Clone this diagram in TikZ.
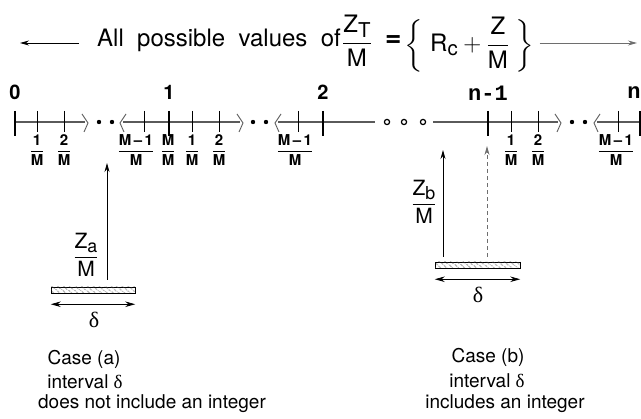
\documentclass[tikz,border=0pt]{standalone}
\usepackage{amsmath}
\usepackage{fontspec}
\setmainfont{TeX Gyre Heros}
\setmonofont{Liberation Mono}
\newfontfamily\serifgr{Liberation Serif}
\usepackage{xcolor}
\definecolor{AxisGray}{RGB}{90,90,90}
\definecolor{ArrowGray}{RGB}{110,110,110}
\definecolor{HatchLine}{RGB}{70,70,70}
\usepackage{tikz}
\usetikzlibrary{
  arrows.meta,
  positioning, calc,
  patterns.meta
}
\newcommand{\vfrac}[2]{$\genfrac{}{}{1pt}{0}{\text{#1}}{\text{#2}}$}
\newcommand{\lsub}[1]{\raisebox{-0.35ex}{\scalebox{0.85}{#1}}}
\newcommand{\setbrace}[1]{\smash{\scalebox{1}[0.88]{$#1$}}}
\tikzset{
  % Number line pieces
  axisline/.style={AxisGray, line width=1.2pt},
  tickmaj/.style={black, line width=2.4pt},
  tickmin/.style={black, line width=0.8pt},
  brkmark/.style={AxisGray, line width=0.9pt},
  % Labels
  toplab/.style={font=\fontsize{24}{26}\selectfont, inner sep=0pt},
  intlab/.style={font=\fontsize{20}{20}\selectfont\bfseries, inner sep=0pt},
  ttlab/.style={font=\fontsize{22}{22}\selectfont\ttfamily\bfseries, inner sep=0pt},
  fraclab/.style={font=\fontsize{15}{15}\selectfont\bfseries, inner sep=0pt},
  zlab/.style={font=\fontsize{21}{21}\selectfont, inner sep=0pt},
  dlab/.style={font=\fontsize{22}{22}\selectfont\serifgr, inner sep=0pt},
  caselab/.style={font=\fontsize{19}{19}\selectfont, inner sep=0pt},
  % Hatched interval
  hatchbar/.style={
    rectangle, draw=black, line width=0.5pt,
    fill=white, minimum height=6pt, inner sep=0pt,
    postaction={pattern={Lines[angle=-40, distance=4pt, line width=0.6pt]}, pattern color=HatchLine}
  },
  % Arrows
  arr/.style={-{Stealth[length=9pt,width=5pt]}, line width=0.8pt},
  darr/.style={-{Stealth[length=9pt,width=5pt]}, line width=0.8pt, ArrowGray, dash pattern=on 4pt off 3pt},
  dblarr/.style={{Stealth[length=10pt,width=5.5pt]}-{Stealth[length=10pt,width=5.5pt]}, line width=0.8pt},
}
\begin{document}
\begin{tikzpicture}[x=1pt, y=-1pt]
  \useasboundingbox (0,0) rectangle (641,419);

  %% Heading
  \node[toplab, anchor=base west] (allval) at (97,47) {All~~possible~~values~~of};
  \node[toplab, right=1pt of allval] (zt) {$\dfrac{\text{Z\lsub{T}}}{\text{M}}$};
  \node[toplab, right=13pt of zt, font=\fontsize{28}{28}\selectfont\bfseries] (eq) {=};
  \node[toplab, right=3pt of eq, yshift=-2pt] (rset) {\setbrace{\biggl\{}\ $\text{R\lsub{c}} + \dfrac{\text{Z}}{\text{M}}$\ \setbrace{\biggr\}}};
  \coordinate (ltail) at (79,43);
  \coordinate (ltip) at (20,43);
  \coordinate (rtip) at (637,43);
  \draw[arr] (ltail) -- (ltip);
  \draw[arr, ArrowGray] ([xshift=5pt]rtip -| rset.east) -- (rtip);

  %% Number line
  \draw[axisline] (15,122) -- (85,122);
  \draw[axisline] (123,122) -- (240,122);
  \draw[axisline] (278,122) -- (375,122);
  \draw[axisline] (433,122) -- (558,122);
  \draw[axisline] (597,122) -- (641,122);
  \foreach \x in {85,240,558} \draw[brkmark] (\x-3,114) -- (\x+3,123) -- (\x-1,132);
  \foreach \x in {123,278,597} \draw[brkmark] (\x+3,114) -- (\x-3,123) -- (\x+1,132);
  \foreach \x in {99,112,253,266,572,585} \fill (\x,122) circle (2.2pt);
  \foreach \x in {387,404,423} \draw[line width=1.2pt] (\x,122) circle (2.6pt);
  \foreach \x in {15,169,323,488,640} \draw[tickmaj] (\x,111) -- (\x,136);
  \foreach \x in {37,64,144,192,219,298,511,538,618} \draw[tickmin] (\x,111) -- (\x,132);

  %% Integer labels
  \node[intlab] (i0) at (15,92) {0};
  \node[intlab] (i1) at (169,92) {1};
  \node[intlab] (i2) at (323,92) {2};
  \node[ttlab] (inm1) at (488,93) {n-1};
  \node[ttlab] (in) at (634,93) {n};

  %% Fraction labels
  \node[fraclab] (f1a) at (37,150) {\vfrac{1}{M}};
  \node[fraclab] (f2a) at (64,150) {\vfrac{2}{M}};
  \node[fraclab] (fma) at (136,150) {\vfrac{M\,\textendash\,1}{M}};
  \node[fraclab] (fmm) at (168,150) {\vfrac{M}{M}};
  \node[fraclab] (f1b) at (192,150) {\vfrac{1}{M}};
  \node[fraclab] (f2b) at (219,150) {\vfrac{2}{M}};
  \node[fraclab] (fmb) at (295,150) {\vfrac{M\,\textendash\,1}{M}};
  \node[fraclab] (f1c) at (511,150) {\vfrac{1}{M}};
  \node[fraclab] (f2c) at (538,150) {\vfrac{2}{M}};
  \node[fraclab] (fmc) at (616,150) {\vfrac{M\,\textendash\,1}{M}};

  %% Case (a)
  \node[hatchbar, minimum width=84pt] (bara) at (93,290) {};
  \coordinate (taila) at (107,280);
  \coordinate (tipa) at (107,163);
  \draw[arr] (taila) -- (tipa);
  \node[zlab] (za) at (86,255) {$\dfrac{\text{Z\lsub{a}}}{\text{M}}$};
  \draw[dblarr] ([yshift=-11pt]bara.south west) -- ([yshift=-11pt]bara.south east);
  \node[dlab] (da) at (94,320) {δ};
  \node[caselab] (casea) at (84,359) {Case (a)};
  \node[caselab] (inta) at (85,382) {interval {\serifgr δ}};
  \node[caselab] (txta) at (152,404) {does not include an integer};

  %% Case (b)
  \node[hatchbar, minimum width=85pt] (barb) at (477.5,265) {};
  \coordinate (tailb) at (443,257);
  \coordinate (tipb) at (443,150);
  \coordinate (tailc) at (487,257);
  \coordinate (tipc) at (487,146);
  \draw[arr] (tailb) -- (tipb);
  \draw[darr] (tailc) -- (tipc);
  \node[zlab] (zb) at (424,202) {$\dfrac{\text{Z\lsub{b}}}{\text{M}}$};
  \draw[dblarr] ([yshift=-11pt]barb.south west) -- ([yshift=-11pt]barb.south east);
  \node[dlab] (db) at (478,295) {δ};
  \node[caselab] (caseb) at (488,357) {Case (b)};
  \node[caselab] (intb) at (487,381) {interval {\serifgr δ}};
  \node[caselab] (txtb) at (505,404) {includes an integer};

\end{tikzpicture}
\end{document}
